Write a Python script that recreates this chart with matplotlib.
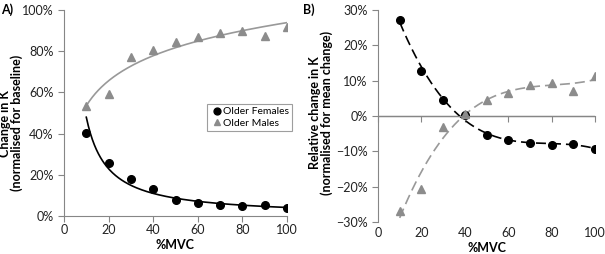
import numpy as np
import matplotlib.pyplot as plt
from matplotlib.ticker import PercentFormatter
import matplotlib.transforms as mtransforms

plt.rcParams['font.family'] = ['Lato', 'DejaVu Sans']

mvc = [10, 20, 30, 40, 50, 60, 70, 80, 90, 100]

# panel A: change in K (%)
fem_a = [40.1, 25.6, 17.8, 13.3, 7.8, 6.5, 5.5, 4.9, 5.2, 3.9]
male_a = [53.4, 59.2, 77.0, 80.7, 84.3, 87.0, 89.0, 89.8, 87.5, 91.9]

# panel B: relative change in K (%)
fem_b = [27.2, 12.6, 4.6, 0.3, -5.3, -6.8, -7.6, -8.2, -7.9, -9.2]
male_b = [-26.8, -20.8, -3.1, 0.5, 4.5, 6.6, 8.8, 9.3, 7.1, 11.4]

x_ticks = [0, 20, 40, 60, 80, 100]
GREY = '#8c8c8c'
SPINE = '#868686'
FS = 9

fig = plt.figure(figsize=(6.05, 2.54), dpi=100)
axA = fig.add_axes([64/605, 1-216/254, (287-64)/605, (216-10)/254])
axB = fig.add_axes([378/605, 1-222/254, (595-378)/605, (222-10)/254])

x = np.array(mvc, dtype=float)
xs = np.linspace(10, 100, 200)

# trendlines for A: power (females), logarithmic (males)
pf = np.polyfit(np.log(x), np.log(fem_a), 1)
pm = np.polyfit(np.log(x), male_a, 1)
axA.plot(xs, np.exp(np.polyval(pf, np.log(xs))), color='black', lw=1.2)
axA.plot(xs, np.polyval(pm, np.log(xs)), color='#999999', lw=1.2)
axA.plot(mvc, fem_a, 'o', color='black', ms=5.5, label='Older Females')
axA.plot(mvc, male_a, '^', color=GREY, ms=5.5, mec=GREY, label='Older Males')

axA.set_xlim(0, 100)
axA.set_ylim(0, 100)
axA.set_xticks(x_ticks)
axA.set_yticks(range(0, 101, 20))
axA.yaxis.set_major_formatter(PercentFormatter(decimals=0))
axA.set_xticklabels([])
transA = mtransforms.blended_transform_factory(axA.transData, axA.transAxes)
for t in x_ticks:
    axA.text(t, -0.068, str(t), transform=transA, ha='center', va='center', fontsize=FS, color='#222222')
axA.text(50, -0.141, '%MVC', transform=transA, ha='center', va='center', fontsize=FS, fontweight='bold')
axA.set_ylabel('Change in K\n(normalised for baseline)', fontsize=FS, fontweight='bold', linespacing=0.95)
axA.yaxis.set_label_coords(-0.182, 0.45)
leg = axA.legend(loc='center right', bbox_to_anchor=(1.022, 0.478), fontsize=7.5, frameon=True,
                 fancybox=False, edgecolor=SPINE, handletextpad=0.0, borderpad=0.3,
                 labelspacing=0.2, handlelength=1.2, borderaxespad=0, markerscale=0.9)
leg.get_frame().set_linewidth(0.8)

# trendlines for B: polynomial
cf = np.polyfit(x, fem_b, 3)
cm = np.polyfit(x, male_b, 3)
axB.axhline(0, color=SPINE, lw=1.0, zorder=1)
axB.plot(xs, np.polyval(cf, xs), color='black', lw=1.2, dashes=(6, 3))
axB.plot(xs, np.polyval(cm, xs), color='#999999', lw=1.2, dashes=(6, 3))
axB.plot(mvc, fem_b, 'o', color='black', ms=5.5)
axB.plot(mvc, male_b, '^', color=GREY, mec=GREY, ms=5.5)

axB.set_xlim(0, 100)
axB.set_ylim(-30, 30)
axB.set_yticks(range(-30, 31, 10))
axB.yaxis.set_major_formatter(PercentFormatter(decimals=0))
axB.set_ylabel('Relative change in K\n(normalised for mean change)', fontsize=FS, fontweight='bold', linespacing=0.95)
axB.yaxis.set_label_coords(-0.207, 0.514)
axB.spines['bottom'].set_position(('data', 0))
axB.set_xticks(x_ticks)
axB.set_xticklabels([])
transB = mtransforms.blended_transform_factory(axB.transData, axB.transAxes)
for t in x_ticks:
    axB.text(t, -0.052, str(t), transform=transB, ha='center', va='center', fontsize=FS, color='#222222')
axB.text(50, -0.123, '%MVC', transform=transB, ha='center', va='center', fontsize=FS, fontweight='bold')

for ax in (axA, axB):
    ax.spines['top'].set_visible(False)
    ax.spines['right'].set_visible(False)
    ax.spines['left'].set_color(SPINE)
    ax.spines['bottom'].set_color(SPINE)
    ax.tick_params(colors=SPINE, labelcolor='#222222', labelsize=FS, length=4, direction='out')

fig.text(0.002, 0.985, 'A)', fontsize=FS, fontweight='bold', va='top')
fig.text(303/605, 0.985, 'B)', fontsize=FS, fontweight='bold', va='top')

fig.savefig('out.png', dpi=100)
